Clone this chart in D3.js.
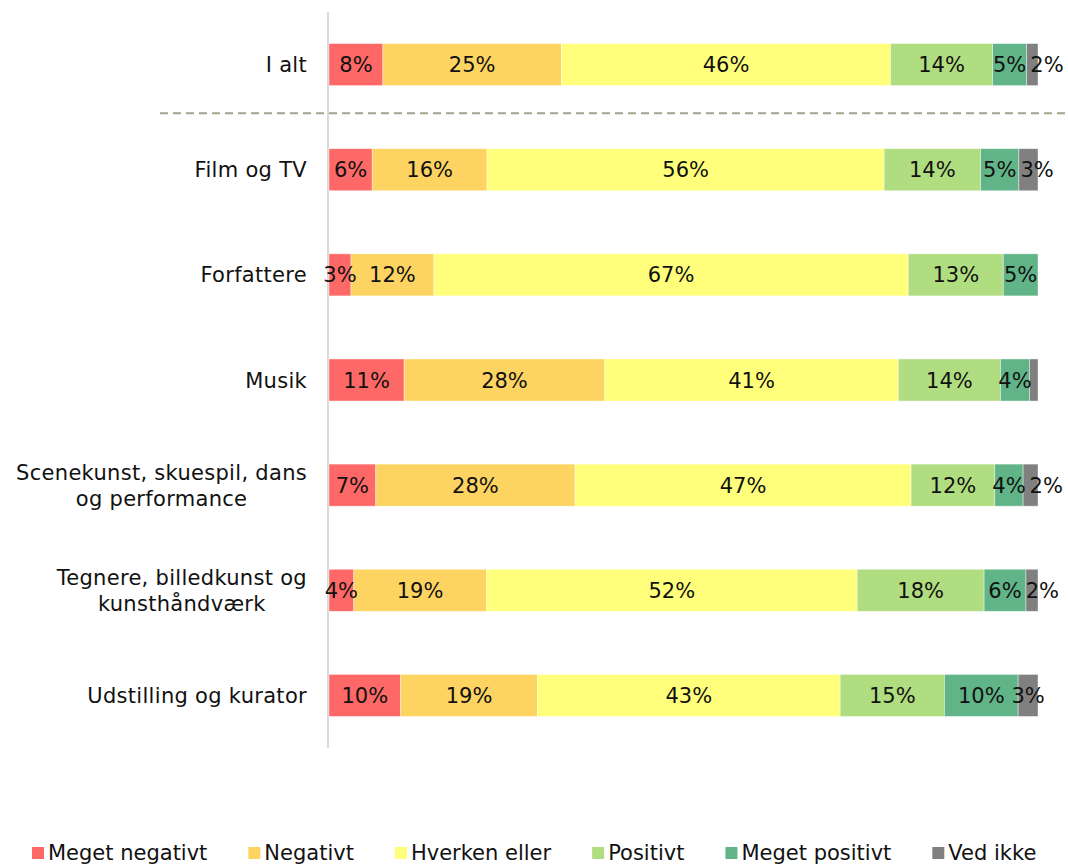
<!DOCTYPE html>
<html>
<head>
<meta charset="utf-8">
<script src="https://cdn.jsdelivr.net/npm/d3@7"></script>
<style>
  body { margin: 0; background: #fff; }
  svg { display: block; font-family: Verdana, "DejaVu Sans", sans-serif; }
</style>
</head>
<body>
<svg width="1068" height="864"></svg>
<script>
// kategorier (linjeskift med \n)
var categories = ["I alt", "Film og TV", "Forfattere", "Musik",
  "Scenekunst, skuespil, dans\nog performance",
  "Tegnere, billedkunst og\nkunsthåndværk", "Udstilling og kurator"];
var series = ["Meget negativt", "Negativt", "Hverken eller", "Positivt", "Meget positivt", "Ved ikke"];
var colors = ["#fe6967", "#fdd461", "#ffff7c", "#b0dd80", "#61b487", "#808080"];

// andele i procent, en række pr. kategori
var megetNegativt = [7.6, 6.1, 3.1, 10.6, 6.6, 3.5, 10.1];
var negativt      = [25.2, 16.2, 11.7, 28.3, 28.1, 18.7, 19.3];
var hverkenEller  = [46.4, 56.0, 66.9, 41.4, 47.4, 52.3, 42.7];
var positivt      = [14.4, 13.6, 13.4, 14.4, 11.8, 17.9, 14.7];
var megetPositivt = [4.8, 5.4, 4.9, 4.1, 4.0, 5.9, 10.4];
var vedIkke       = [1.6, 2.7, 0, 1.2, 2.1, 1.7, 2.8];

var valueArrays = [megetNegativt, negativt, hverkenEller, positivt, megetPositivt, vedIkke];

var rows = categories.map(function(c, i) {
  var r = { cat: c };
  series.forEach(function(s, j) { r[s] = valueArrays[j][i]; });
  return r;
});

var svg = d3.select("svg");
var fontSize = 21;

var x = d3.scaleLinear().domain([0, 100]).range([329, 1038]);
var y = d3.scaleBand().domain(categories).range([12, 748]).paddingInner(0.6).paddingOuter(0.3);

var stack = d3.stack().keys(series)(rows);

// lodret akse
svg.append("line")
  .attr("x1", 328).attr("x2", 328)
  .attr("y1", 12).attr("y2", 748)
  .attr("stroke", "#d9d9d9").attr("stroke-width", 2);

// stiplet skillelinje under "I alt"
var sepY = y(categories[1]) - y.step() * y.paddingInner() / 2 - 4;
svg.append("line")
  .attr("x1", 160).attr("x2", 1066)
  .attr("y1", sepY).attr("y2", sepY)
  .attr("stroke", "#a3a38f").attr("stroke-width", 2)
  .attr("stroke-dasharray", "8,5");

// søjler
var layers = svg.append("g").selectAll("g")
  .data(stack).enter().append("g")
  .attr("fill", function(d, i) { return colors[i]; });

layers.selectAll("rect")
  .data(function(d) { return d; })
  .enter().append("rect")
  .attr("x", function(d) { return x(d[0]); })
  .attr("y", function(d) { return y(d.data.cat); })
  .attr("width", function(d) { return x(d[1]) - x(d[0]); })
  .attr("height", y.bandwidth())
  .attr("stroke", "#ffffff").attr("stroke-opacity", 0.5).attr("stroke-width", 0.8);

// dataetiketter, centreret og skubbet til højre hvis de overlapper
var labelG = svg.append("g")
  .attr("font-size", fontSize).attr("fill", "#111");

categories.forEach(function(c, i) {
  var prevEnd = -Infinity;
  stack.forEach(function(layer) {
    var d = layer[i];
    var v = d[1] - d[0];
    if (v < 1.5) return;
    var t = labelG.append("text")
      .attr("text-anchor", "start")
      .attr("dy", "0.36em")
      .attr("y", y(c) + y.bandwidth() / 2)
      .text(Math.round(v) + "%");
    var w = t.node().getComputedTextLength();
    var start = (x(d[0]) + x(d[1])) / 2 - w / 2;
    if (start < prevEnd + 4) start = prevEnd + 4;
    t.attr("x", start);
    prevEnd = start + w;
  });
});

// kategorinavne
var catG = svg.append("g").attr("font-size", fontSize).attr("fill", "#111")
  .attr("letter-spacing", 0.3);
categories.forEach(function(c) {
  var lines = c.split("\n");
  var cy = y(c) + y.bandwidth() / 2;
  var lh = 26;
  var texts = lines.map(function(l, k) {
    return catG.append("text")
      .attr("text-anchor", "middle")
      .attr("dy", "0.36em")
      .attr("y", cy + (k - (lines.length - 1) / 2) * lh)
      .text(l);
  });
  var maxW = d3.max(texts, function(t) { return t.node().getComputedTextLength(); });
  texts.forEach(function(t) { t.attr("x", 307 - maxW / 2); });
});

// forklaring
var leg = svg.append("g").attr("font-size", fontSize).attr("fill", "#111");
var lx = 32;
series.forEach(function(s, i) {
  leg.append("rect")
    .attr("x", lx).attr("y", 847)
    .attr("width", 12).attr("height", 12)
    .attr("fill", colors[i]);
  var t = leg.append("text")
    .attr("x", lx + 16).attr("y", 860)
    .text(s);
  lx += 16 + t.node().getComputedTextLength() + 41;
});
</script>
</body>
</html>
